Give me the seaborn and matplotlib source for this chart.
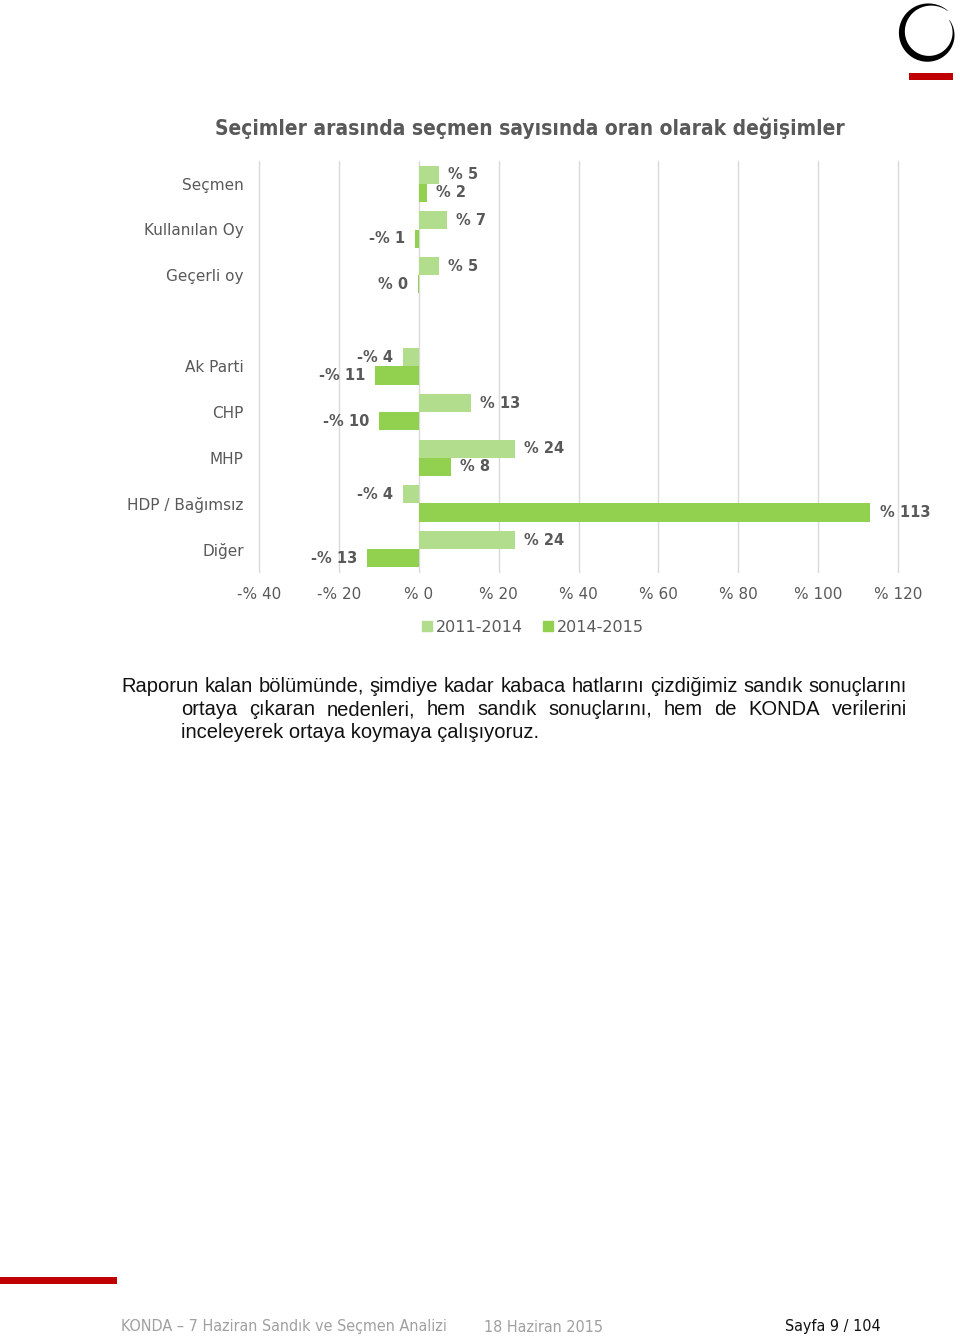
import numpy as np
import pandas as pd
import matplotlib
matplotlib.use("Agg")
import matplotlib.pyplot as plt
import matplotlib.patches as mpatches
import seaborn as sns

# ---------------- data ----------------
categories = ["Seçmen", "Kullanılan Oy", "Geçerli oy", " ",
              "Ak Parti", "CHP", "MHP", "HDP / Bağımsız", "Diğer"]
data_categories = ["Seçmen", "Kullanılan Oy", "Geçerli oy",
                   "Ak Parti", "CHP", "MHP", "HDP / Bağımsız", "Diğer"]
series = ["2011-2014", "2014-2015"]
values_2011_2014 = [5, 7, 5, -4, 13, 24, -4, 24]
values_2014_2015 = [2, -1, -0.2, -11, -10, 8, 113, -13]
x_ticks = [-40, -20, 0, 20, 40, 60, 80, 100, 120]
x_tick_labels = ["-% 40", "-% 20", "% 0", "% 20", "% 40", "% 60", "% 80", "% 100", "% 120"]

title = "Seçimler arasında seçmen sayısında oran olarak değişimler"
paragraph_lines = [
    "Raporun kalan bölümünde, şimdiye kadar kabaca hatlarını çizdiğimiz sandık sonuçlarını",
    "ortaya çıkaran nedenleri, hem sandık sonuçlarını, hem de KONDA verilerini",
    "inceleyerek ortaya koymaya çalışıyoruz.",
]
footer_left = "KONDA – 7 Haziran Sandık ve Seçmen Analizi"
footer_date = "18 Haziran 2015"
footer_page = "Sayfa 9 / 104"

colors = {"2011-2014": "#B2DD8C", "2014-2015": "#92D050"}
GRAY = "#595959"

df = pd.DataFrame({
    "kategori": data_categories * 2,
    "dönem": [series[0]] * len(data_categories) + [series[1]] * len(data_categories),
    "değer": values_2011_2014 + values_2014_2015,
})

# ---------------- figure ----------------
sns.set_theme(style="white")
plt.rcParams["font.family"] = ["DejaVu Sans"]

W, H = 960, 1337
fig = plt.figure(figsize=(W / 100, H / 100), dpi=100)


def fx(px):
    return px / W


def fy(py):
    return 1 - py / H


ax = fig.add_axes([fx(259), fy(572), fx(898) - fx(259), fy(161) - fy(572)])
sns.barplot(data=df, x="değer", y="kategori", hue="dönem", order=categories,
            hue_order=series, palette=colors, orient="h", width=0.79,
            saturation=1, ax=ax, legend=False, errorbar=None, linewidth=0)

ax.set_xlim(-40, 120)
ax.set_ylim(len(categories) - 0.5, -0.5)
ax.set_xticks(x_ticks)
ax.set_xticklabels(x_tick_labels, color=GRAY, fontsize=11)
ax.tick_params(axis="x", length=0, pad=10.5)
ax.tick_params(axis="y", length=0, pad=11, labelsize=11, labelcolor=GRAY)
ax.set_xlabel("")
ax.set_ylabel("")
ax.grid(axis="x", color="#D9D9D9", linewidth=1)
ax.grid(axis="y", visible=False)
for gl in ax.get_xgridlines():
    gl.set_clip_on(False)
ax.set_axisbelow(True)
for s in ax.spines.values():
    s.set_visible(False)


def fmt_val(v):
    r = int(round(v))
    return ("-% " if r < 0 else "% ") + str(abs(r))


for cont in ax.containers:
    ax.bar_label(cont, fmt=fmt_val, padding=7, fontsize=10.5,
                 fontweight="bold", color=GRAY)

# legend
handles = [mpatches.Patch(color=colors[s], label=s) for s in series]
fig.legend(handles=handles, loc="center", bbox_to_anchor=(fx(533), fy(627)),
           ncol=2, frameon=False, fontsize=11.5, handlelength=0.6,
           handleheight=0.6, handletextpad=0.25, columnspacing=1.3,
           labelcolor=GRAY)

# title
fig.text(fx(530), fy(128), title, ha="center", va="center", fontsize=15,
         fontweight="bold", color=GRAY, fontstretch="condensed")

# paragraph (justified)
renderer = fig.canvas.get_renderer()
PFONT = dict(fontsize=14.5, color="#111111", family="Liberation Sans")
line_specs = [(121, 907, 692, True), (181, 907, 715, True), (181, None, 738, False)]
for text_line, (x0, x1, yy, justify) in zip(paragraph_lines, line_specs):
    words = text_line.split(" ")
    if not justify:
        fig.text(fx(x0), fy(yy), text_line, ha="left", va="baseline", **PFONT)
        continue
    objs = [fig.text(0, fy(yy), w, ha="left", va="baseline", **PFONT) for w in words]
    widths = [o.get_window_extent(renderer).width for o in objs]
    gap = (x1 - x0 - sum(widths)) / (len(words) - 1)
    cur = x0
    for o, wdt in zip(objs, widths):
        o.set_x(fx(cur))
        cur += wdt + gap

# logo (spiral swoosh)
logo_ax = fig.add_axes([fx(895), fy(70), fx(965) - fx(895), fy(0) - fy(70)])
logo_ax.set_xlim(0, 70)
logo_ax.set_ylim(70, 0)
logo_ax.axis("off")
t0, t1 = np.deg2rad(50), np.deg2rad(392)
t = np.linspace(t0, t1, 300)
u = (t - t0) / (t1 - t0)
rc = 29.0 - 5.0 * u
thick = 0.5 + 6.0 * np.sin(np.pi * u) ** 1.2
cx, cy = 34, 33
outer = np.c_[cx + (rc + thick / 2) * np.cos(t), cy - (rc + thick / 2) * np.sin(t)]
inner = np.c_[cx + (rc - thick / 2) * np.cos(t), cy - (rc - thick / 2) * np.sin(t)]
poly = np.vstack([outer, inner[::-1]])
logo_ax.add_patch(mpatches.Polygon(poly, closed=True, color="black", lw=0))
fig.patches.append(mpatches.Rectangle((fx(909), fy(80)), fx(953) - fx(909),
                                      fy(73) - fy(80), transform=fig.transFigure,
                                      color="#C00000", lw=0))

# footer
fig.patches.append(mpatches.Rectangle((0, fy(1284)), fx(117), fy(1277) - fy(1284),
                                      transform=fig.transFigure,
                                      color="#C00000", lw=0))
fig.text(fx(121), fy(1327), footer_left, ha="left", va="center",
         fontsize=11.5, color="#A0A0A0", fontstretch="condensed")
fig.text(fx(484), fy(1327), footer_date, ha="left", va="center",
         fontsize=11.5, color="#A0A0A0", fontstretch="condensed")
fig.text(fx(785), fy(1327), footer_page, ha="left", va="center",
         fontsize=11.5, color="#111111", fontstretch="condensed")

fig.savefig("out.png", dpi=100, facecolor="white")
